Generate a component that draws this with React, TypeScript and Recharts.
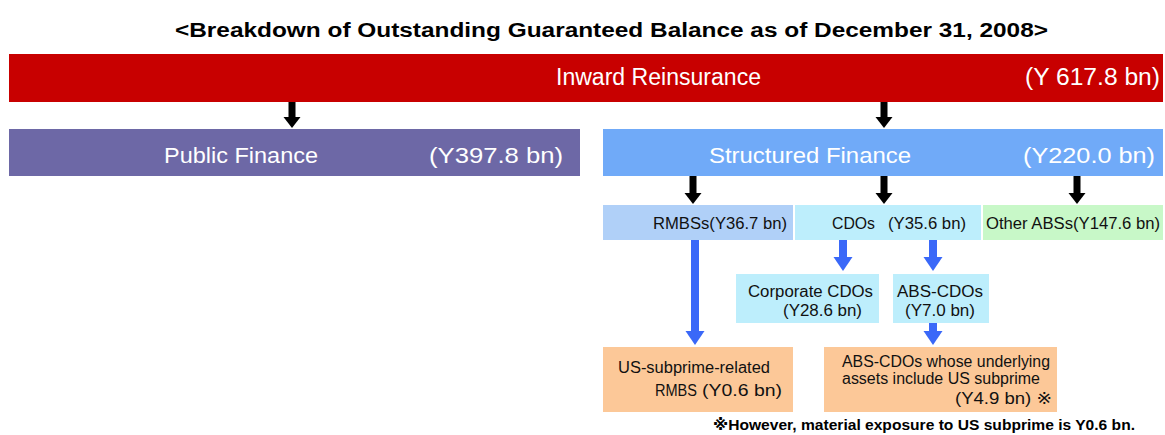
import { ComposedChart, ReferenceArea, ReferenceLine, XAxis, YAxis } from "recharts";

// values
const nodeNames: string[][] = [
  ["Inward Reinsurance"],
  ["Public Finance"],
  ["Structured Finance"],
  ["RMBSs"],
  ["CDOs"],
  ["Other ABSs"],
  ["Corporate CDOs"],
  ["ABS-CDOs"],
  ["US-subprime-related", "RMBS"],
  ["ABS-CDOs whose underlying", "assets include US subprime"],
];
const nodeAmounts = [617.8, 397.8, 220.0, 36.7, 35.6, 147.6, 28.6, 7.0, 0.6, 4.9];
const title = "<Breakdown of Outstanding Guaranteed Balance as of December 31, 2008>";
const footnote = "※However, material exposure to US subprime is Y0.6 bn.";

const amt = (i: number, gap = "") => `(Y${gap}${nodeAmounts[i].toFixed(1)} bn)`;

const W = 1165;
const H = 435;
const FONT = "'Liberation Sans', 'DejaVu Sans', 'Noto Sans CJK JP', sans-serif";

type Line = { text: string; x: number; y: number; w: number };
type Box = { x1: number; x2: number; y1: number; y2: number; fill: string; color: string; size: number; lines: Line[] };

const boxes: Box[] = [
  { x1: 9, x2: 1163, y1: 54, y2: 102, fill: "#c80000", color: "#fff", size: 23, lines: [
    { text: nodeNames[0][0], x: 556, y: 85, w: 205 },
    { text: amt(0, " "), x: 1025, y: 85, w: 135 },
  ] },
  { x1: 9, x2: 580, y1: 129, y2: 176, fill: "#6d68a6", color: "#fff", size: 22, lines: [
    { text: nodeNames[1][0], x: 164, y: 163, w: 154 },
    { text: amt(1), x: 429, y: 163, w: 134 },
  ] },
  { x1: 603, x2: 1163, y1: 129, y2: 176, fill: "#70aaf8", color: "#fff", size: 22, lines: [
    { text: nodeNames[2][0], x: 709, y: 163, w: 202 },
    { text: amt(2), x: 1023, y: 163, w: 132 },
  ] },
  { x1: 603, x2: 793, y1: 205, y2: 240, fill: "#b0d0f8", color: "#111", size: 16, lines: [
    { text: nodeNames[3][0] + amt(3), x: 653, y: 229, w: 134 },
  ] },
  { x1: 795, x2: 981, y1: 205, y2: 240, fill: "#bdeefc", color: "#111", size: 16, lines: [
    { text: nodeNames[4][0], x: 832, y: 229, w: 43 },
    { text: amt(4), x: 888, y: 229, w: 78 },
  ] },
  { x1: 983, x2: 1163, y1: 205, y2: 240, fill: "#c8f8c8", color: "#111", size: 16, lines: [
    { text: nodeNames[5][0] + amt(5), x: 986, y: 229, w: 174 },
  ] },
  { x1: 736, x2: 879, y1: 274, y2: 323, fill: "#bdeefc", color: "#111", size: 16, lines: [
    { text: nodeNames[6][0], x: 748, y: 297, w: 125 },
    { text: amt(6), x: 783, y: 316, w: 79 },
  ] },
  { x1: 893, x2: 989, y1: 274, y2: 323, fill: "#bdeefc", color: "#111", size: 16, lines: [
    { text: nodeNames[7][0], x: 897, y: 297, w: 86 },
    { text: amt(7), x: 905, y: 316, w: 70 },
  ] },
  { x1: 603, x2: 793, y1: 347, y2: 412, fill: "#fcc898", color: "#111", size: 16, lines: [
    { text: nodeNames[8][0], x: 618, y: 373, w: 152 },
    { text: nodeNames[8][1], x: 655, y: 396, w: 42 },
    { text: amt(8), x: 702, y: 396, w: 80 },
  ] },
  { x1: 824, x2: 1057, y1: 347, y2: 412, fill: "#fcc898", color: "#111", size: 16, lines: [
    { text: nodeNames[9][0], x: 842, y: 367, w: 208 },
    { text: nodeNames[9][1], x: 842, y: 384, w: 198 },
    { text: amt(9) + " ※", x: 955, y: 404, w: 97 },
  ] },
];

// arrows: x, from, to, colour
const arrows: { x: number; from: number; to: number; color: string }[] = [
  { x: 292, from: 102, to: 129, color: "#000" },
  { x: 884, from: 102, to: 129, color: "#000" },
  { x: 693, from: 176, to: 205, color: "#000" },
  { x: 884, from: 176, to: 205, color: "#000" },
  { x: 1077, from: 176, to: 205, color: "#000" },
  { x: 695, from: 240, to: 346, color: "#3a68f8" },
  { x: 843, from: 240, to: 272, color: "#3a68f8" },
  { x: 933, from: 240, to: 272, color: "#3a68f8" },
  { x: 933, from: 323, to: 346, color: "#3a68f8" },
];

function BoxShape(props: any, box: Box) {
  const { x, y, width, height } = props;
  const ox = x - box.x1;
  const oy = y - box.y1;
  return (
    <g>
      <rect x={x} y={y} width={width} height={height} fill={box.fill} />
      {box.lines.map((l, k) => (
        <text key={k} x={l.x + ox} y={l.y + oy} fill={box.color} fontSize={box.size} fontFamily={FONT}
          textLength={l.w} lengthAdjust="spacingAndGlyphs">
          {l.text}
        </text>
      ))}
    </g>
  );
}

function ArrowShape(props: any, color: string) {
  const { x1, y1, y2 } = props;
  const blue = color !== "#000";
  const shaft = blue ? 8 : 7;
  const head = blue ? 19 : 17;
  const headLen = blue ? 14 : 11;
  const tip = y2 - 1;
  return (
    <g>
      <rect x={x1 - shaft / 2} y={y1} width={shaft} height={tip - headLen - y1 + 1} fill={color} />
      <polygon points={`${x1 - head / 2},${tip - headLen} ${x1 + head / 2},${tip - headLen} ${x1},${tip}`} fill={color} />
    </g>
  );
}

export default function App() {
  return (
    <div style={{ position: "relative", width: W, height: H, background: "#fff" }}>
      <style>{`body{margin:0}`}</style>
      <ComposedChart width={W} height={H} margin={{ top: 0, right: 0, bottom: 0, left: 0 }}>
        <XAxis type="number" dataKey="x" domain={[0, W]} hide allowDataOverflow />
        <YAxis type="number" domain={[0, H]} reversed hide allowDataOverflow />
        {boxes.map((b, i) => (
          <ReferenceArea key={i} x1={b.x1} x2={b.x2} y1={b.y1} y2={b.y2} ifOverflow="visible"
            shape={(p: any) => BoxShape(p, b)} />
        ))}
        {arrows.map((a, i) => (
          <ReferenceLine key={"a" + i} segment={[{ x: a.x, y: a.from }, { x: a.x, y: a.to }]} ifOverflow="visible"
            shape={(p: any) => ArrowShape(p, a.color)} />
        ))}
      </ComposedChart>
      <svg width={W} height={H} style={{ position: "absolute", left: 0, top: 0, pointerEvents: "none" }}>
        <text x={175} y={37} fontSize={20} fontWeight="bold" fontFamily={FONT} fill="#000"
          textLength={873} lengthAdjust="spacingAndGlyphs">{title}</text>
        <text x={713} y={430} fontSize={15.5} fontWeight="bold" fontFamily={FONT} fill="#000"
          textLength={422} lengthAdjust="spacingAndGlyphs">{footnote}</text>
      </svg>
    </div>
  );
}
